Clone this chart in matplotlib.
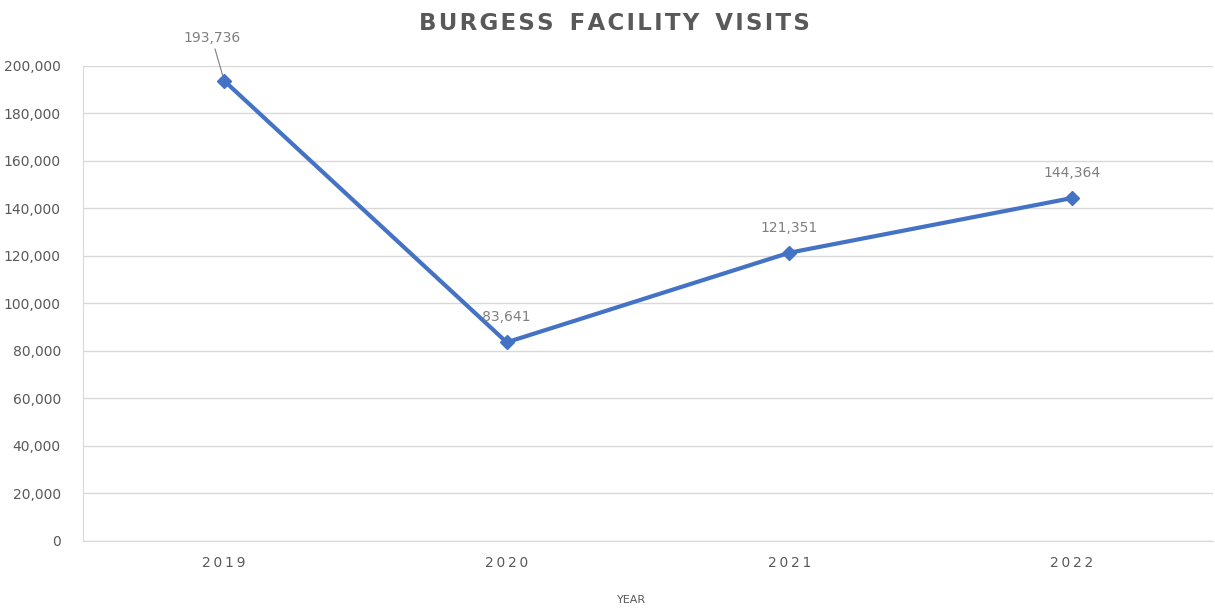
import matplotlib.pyplot as plt

years = ['2019', '2020', '2021', '2022']
visits = [193736, 83641, 121351, 144364]
yticks = list(range(0, 200001, 20000))

fig = plt.figure(figsize=(12.15, 6.09), dpi=100)
ax = fig.add_axes([0.0683, 0.1117, 0.93, 0.78])

x = list(range(len(years)))
ax.plot(x, visits, color='#4472C4', linewidth=3, marker='D', markersize=7, zorder=3)

ax.set_xlim(-0.5, 3.5)
ax.set_ylim(0, 200000)
ax.set_yticks(yticks)
ax.set_yticklabels([f'{v:,}' for v in yticks], color='#595959', fontsize=10)
ax.set_xticks(x)
ax.set_xticklabels(['\u2009'.join(y) for y in years], color='#595959', fontsize=10)
ax.tick_params(length=0, pad=16, axis='y')
ax.tick_params(length=0, pad=11, axis='x')
ax.grid(axis='y', color='#d9d9d9', linewidth=1)
ax.set_axisbelow(True)
for s in ['top', 'right']:
    ax.spines[s].set_visible(False)
for s in ['left', 'bottom']:
    ax.spines[s].set_color('#d9d9d9')

# data labels
offsets = [(-9, 26), (0, 13), (0, 13), (0, 13)]
for i, v in enumerate(visits):
    dx, dy = offsets[i]
    if i == 0:
        ax.annotate(f'{v:,}', (i, v), xytext=(dx, dy), textcoords='offset points',
                    ha='center', va='bottom', color='#7f7f7f', fontsize=10,
                    arrowprops=dict(arrowstyle='-', color='#7f7f7f', lw=0.8,
                                    shrinkA=1, shrinkB=4))
    else:
        ax.annotate(f'{v:,}', (i, v), xytext=(dx, dy), textcoords='offset points',
                    ha='center', va='bottom', color='#7f7f7f', fontsize=10)

title = '\u200a'.join('BURGESS') + '  ' + '\u200a'.join('FACILITY') + '  ' + '\u200a'.join('VISITS')
fig.text(0.506, 0.962, title, ha='center', va='center', fontsize=16.5,
         fontweight='bold', color='#595959')
fig.text(0.52, 0.014, 'YEAR', ha='center', va='center', fontsize=8, color='#595959')

fig.savefig('out.png', dpi=100)
